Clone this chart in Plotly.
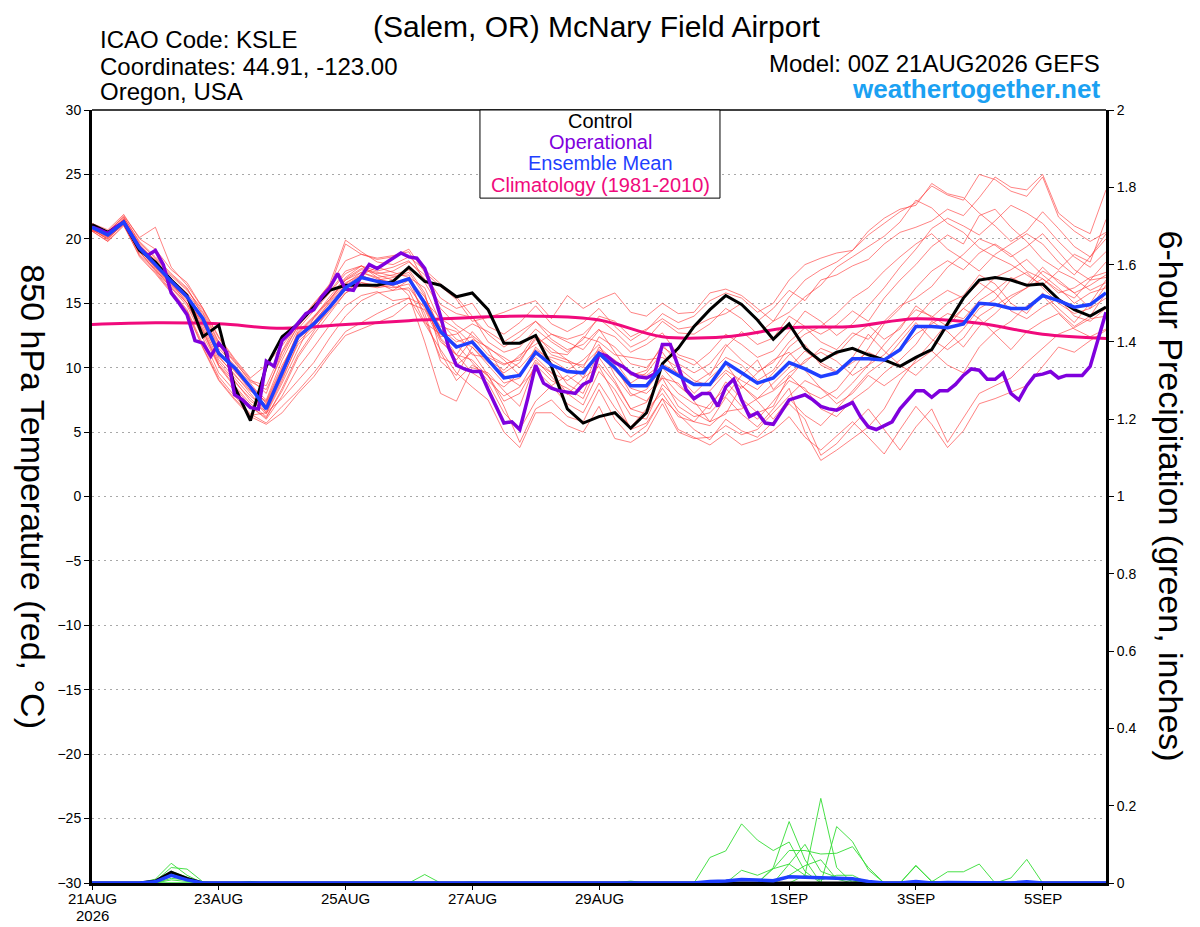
import pandas as pd
import plotly.graph_objects as go

times = pd.date_range("2026-08-21 00:00", periods=65, freq="6h")
times_3h = pd.date_range("2026-08-21 00:00", periods=129, freq="3h")
clim_days = pd.date_range("2026-08-21 00:00", periods=17, freq="D")

# control run (black)
control = [21.1, 20.5, 21.3, 19.1, 18.2, 16.8, 15.6, 12.4, 13.3, 8.5, 5.9, 10.1, 12.4,
           13.4, 14.7, 16.0, 16.4, 16.4, 16.4, 16.7, 17.8, 16.7, 16.4, 15.5, 15.8, 14.5,
           11.9, 11.9, 12.5, 10.1, 6.8, 5.7, 6.2, 6.5, 5.3, 6.5, 10.3, 11.5, 13.2,
           14.5, 15.6, 14.9, 13.7, 12.2, 13.4, 11.5, 10.5, 11.2, 11.5, 11.0, 10.6, 10.1,
           10.8, 11.4, 13.4, 15.4, 16.8, 17.0, 16.8, 16.4, 16.5, 15.3, 14.5, 14.0, 14.7]

# ensemble mean (blue)
ens_mean = [20.9, 20.3, 21.3, 19.3, 18.0, 16.7, 15.5, 13.8, 11.1, 10.0, 8.5, 6.8, 9.6,
            12.4, 13.4, 14.7, 16.2, 17.0, 16.7, 16.5, 16.9, 15.0, 12.8, 11.6, 12.0, 10.6,
            9.2, 9.4, 11.2, 10.2, 9.7, 9.6, 11.1, 10.0, 8.6, 8.6, 10.1, 9.4, 8.7,
            8.7, 10.4, 9.6, 8.8, 9.2, 10.4, 9.9, 9.3, 9.6, 10.7, 10.7, 10.6, 11.4,
            13.2, 13.2, 13.1, 13.4, 15.0, 14.9, 14.6, 14.6, 15.6, 15.2, 14.7, 14.9, 15.8]

# operational run (purple), 3-hourly
operational = [20.9, 20.7, 20.4, 20.9, 21.3, 20.3, 19.3, 18.7, 19.1, 18.0, 15.8, 15.0, 14.1,
               12.1, 11.9, 10.9, 11.9, 11.2, 7.9, 7.5, 6.9, 6.8, 10.5, 10.1, 12.1, 12.7,
               13.4, 14.2, 14.5, 15.5, 16.2, 17.3, 16.1, 16.0, 17.1, 18.0, 17.7, 18.1, 18.5,
               18.9, 18.6, 18.5, 17.7, 16.0, 14.0, 11.6, 10.2, 9.9, 9.7, 9.7, 8.3, 7.0,
               5.7, 5.8, 5.2, 7.6, 10.2, 8.8, 8.4, 8.2, 8.1, 8.0, 8.7, 9.0, 11.1,
               10.9, 10.4, 10.1, 9.6, 9.3, 9.2, 9.5, 11.8, 11.8, 10.1, 8.3, 7.6, 8.0,
               8.0, 7.0, 8.5, 9.1, 7.5, 6.2, 6.5, 5.7, 5.6, 6.6, 7.5, 7.7, 7.9, 7.5,
               7.0, 6.8, 6.7, 7.0, 7.3, 6.2, 5.4, 5.2, 5.5, 5.8, 6.8, 7.5, 8.2,
               8.2, 7.7, 8.2, 8.2, 8.7, 9.4, 9.9, 9.8, 9.1, 9.1, 9.6, 8.0, 7.5,
               8.6, 9.4, 9.5, 9.7, 9.2, 9.4, 9.4, 9.4, 10.1, 12.1, 14.3]

# climatology 1981-2010 (pink), daily
climatology = [13.36, 13.48, 13.4, 13.05, 13.35, 13.65, 13.9, 14.0, 13.7,
               12.4, 12.4, 13.1, 13.2, 13.8, 13.45, 12.6, 12.27]

# ensemble members, 850 hPa temperature (red)
members = [
    [20.7, 20.0, 21.4, 19.0, 17.6, 16.2, 14.8, 12.3, 9.6, 8.2, 7.0, 6.1, 8.4,
     11.0, 12.8, 14.6, 16.5, 17.4, 17.0, 17.2, 17.6, 15.8, 11.2, 9.0, 10.2, 9.4,
     7.0, 4.2, 6.8, 7.5, 6.2, 5.8, 8.3, 6.0, 4.6, 5.5, 7.6, 6.4, 5.2,
     4.4, 6.0, 5.1, 4.6, 5.8, 7.2, 6.0, 3.2, 4.1, 5.5, 6.8, 5.2, 3.6,
     5.4, 6.8, 4.2, 6.1, 8.0, 8.6, 9.2, 10.4, 11.5, 12.6, 13.1, 13.8, 14.0],
    [21.0, 20.4, 21.6, 19.6, 18.3, 16.9, 15.8, 14.2, 11.5, 10.2, 8.8, 7.2, 9.8,
     12.8, 14.0, 15.3, 16.8, 17.6, 17.3, 17.5, 18.2, 17.2, 15.4, 14.6, 15.0, 13.2,
     12.6, 13.5, 14.8, 13.4, 12.8, 13.5, 14.6, 13.2, 12.1, 12.9, 14.2, 13.5, 14.0,
     15.2, 15.8, 15.4, 14.3, 15.0, 16.8, 18.0, 18.5, 18.9, 19.1, 20.3, 21.2, 22.1,
     22.8, 24.1, 23.4, 23.0, 25.0, 24.6, 23.7, 23.3, 24.8, 21.7, 20.6, 19.8, 20.5],
    [20.9, 20.2, 21.2, 19.2, 17.8, 16.4, 15.2, 13.5, 10.8, 9.5, 8.0, 6.5, 9.0,
     12.0, 13.2, 14.5, 16.0, 16.6, 16.4, 16.2, 16.5, 14.2, 10.5, 9.4, 11.6, 10.2,
     8.8, 9.2, 11.6, 10.4, 8.7, 8.0, 10.8, 9.0, 6.8, 7.3, 9.4, 8.0, 7.2,
     6.8, 8.9, 7.6, 6.5, 7.0, 9.4, 8.2, 7.6, 8.3, 9.8, 11.5, 13.4, 14.6,
     16.2, 17.5, 18.3, 17.6, 18.9, 19.6, 18.8, 17.5, 16.9, 15.8, 16.2, 17.0, 17.4],
    [20.6, 20.5, 21.8, 20.1, 20.9, 17.8, 16.4, 14.6, 12.3, 10.6, 9.1, 8.0, 11.2,
     13.2, 14.6, 15.9, 17.5, 17.9, 17.0, 16.3, 16.0, 13.5, 12.6, 11.8, 10.4, 9.0,
     7.8, 8.5, 10.6, 9.3, 7.9, 9.2, 11.6, 10.5, 8.8, 9.6, 11.2, 9.4, 8.0,
     9.2, 10.3, 8.6, 7.4, 6.0, 7.6, 6.3, 5.5, 6.8, 8.2, 9.6, 10.5, 12.0,
     13.5, 12.2, 11.4, 12.3, 14.0, 14.8, 15.6, 16.2, 16.9, 16.0, 15.4, 16.8, 18.2],
    [21.1, 20.3, 21.5, 19.4, 18.1, 16.6, 15.0, 12.8, 10.2, 8.9, 7.6, 6.4, 8.8,
     11.4, 13.9, 15.5, 17.0, 17.9, 17.2, 16.8, 15.6, 12.0, 8.0, 7.4, 10.0, 9.6,
     8.2, 7.0, 10.4, 9.6, 8.0, 7.1, 9.7, 8.3, 6.3, 6.0, 8.7, 7.5, 6.5,
     5.8, 7.7, 6.4, 5.4, 6.8, 8.4, 5.0, 2.8, 3.6, 4.5, 5.4, 6.8, 9.0,
     10.6, 12.0, 13.5, 14.6, 13.8, 12.6, 11.4, 12.8, 13.6, 14.2, 13.0, 12.4, 13.0],
    [20.8, 19.9, 21.3, 19.3, 18.4, 17.1, 16.0, 14.5, 12.0, 10.5, 8.9, 8.3, 10.9,
     13.3, 14.8, 16.2, 19.6, 18.8, 18.4, 18.6, 19.2, 17.4, 16.3, 15.3, 13.6, 13.9,
     14.3, 14.8, 15.2, 13.8, 15.6, 14.6, 15.3, 15.8, 14.3, 14.0, 15.0, 14.2, 14.3,
     15.8, 16.1, 15.6, 14.6, 13.6, 14.3, 15.5, 16.4, 17.8, 18.6, 19.4, 20.2, 21.3,
     23.0, 22.4, 21.2, 20.5, 19.3, 18.6, 18.0, 17.2, 16.4, 17.5, 16.9, 16.0, 16.6],
    [20.9, 20.1, 21.1, 19.0, 17.5, 16.0, 14.5, 11.8, 9.3, 7.8, 6.4, 5.7, 7.0,
     8.2, 9.6, 11.2, 12.8, 13.5, 14.2, 14.8, 15.4, 14.8, 12.3, 11.0, 9.6, 8.8,
     6.5, 5.2, 7.4, 8.6, 9.4, 8.5, 11.3, 10.2, 8.0, 7.4, 9.2, 7.0, 6.2,
     6.5, 7.8, 9.4, 10.6, 8.3, 9.6, 10.4, 11.5, 11.0, 12.4, 13.3, 12.2, 13.0,
     14.8, 13.9, 15.0, 15.6, 17.2, 16.5, 15.0, 14.2, 15.8, 14.6, 13.5, 15.0, 16.8],
    [20.6, 19.8, 21.0, 18.7, 17.4, 15.9, 14.4, 11.6, 9.1, 7.6, 6.3, 6.5, 7.6,
     9.0, 10.4, 12.3, 14.0, 15.2, 15.8, 16.0, 16.8, 15.5, 13.0, 12.0, 12.4, 11.0,
     10.3, 10.6, 12.2, 11.0, 10.6, 10.0, 12.4, 11.6, 10.3, 10.0, 11.6, 10.8, 10.2,
     11.2, 12.6, 11.8, 10.8, 11.3, 12.8, 14.4, 13.6, 12.5, 13.4, 14.8, 16.2, 17.8,
     19.2, 20.8, 21.6, 21.0, 20.3, 21.4, 22.6, 22.0, 21.2, 19.8, 18.6, 17.8, 19.0],
    [21.0, 20.6, 21.7, 19.8, 18.6, 17.3, 16.2, 14.0, 11.2, 9.7, 8.4, 7.0, 9.3,
     12.5, 13.6, 15.0, 16.4, 17.2, 17.8, 17.4, 17.0, 16.2, 13.5, 12.2, 11.6, 10.4,
     9.6, 10.4, 12.4, 11.5, 10.6, 9.2, 10.1, 7.8, 5.2, 5.7, 7.6, 5.2, 4.6,
     4.0, 4.9, 4.0, 4.4, 5.1, 6.2, 4.6, 3.6, 4.7, 5.8, 4.6, 3.3, 5.2,
     7.0, 5.6, 3.8, 5.1, 7.2, 7.6, 8.1, 8.6, 10.1, 11.6, 11.2, 12.1, 12.9],
    [20.8, 20.2, 21.4, 19.1, 17.8, 16.5, 15.4, 13.2, 10.6, 9.2, 7.8, 6.8, 9.9,
     12.6, 13.8, 15.2, 16.8, 17.4, 16.9, 16.6, 16.9, 15.2, 13.8, 13.0, 11.8, 10.6,
     9.8, 11.0, 11.8, 12.6, 12.0, 11.4, 12.9, 12.4, 11.2, 11.8, 12.7, 11.0, 10.6,
     9.4, 11.6, 12.8, 11.8, 12.3, 14.0, 13.2, 12.6, 13.3, 14.4, 13.6, 15.4, 16.8,
     18.0, 19.4, 20.3, 19.6, 21.8, 22.3, 20.9, 19.8, 18.4, 17.6, 18.8, 18.2, 21.5],
    [21.2, 20.7, 21.9, 20.0, 19.2, 17.6, 16.6, 14.6, 12.4, 10.7, 9.2, 10.2, 11.7,
     13.4, 15.0, 16.4, 18.3, 18.8, 18.5, 18.7, 19.0, 16.6, 14.6, 13.3, 12.5, 11.5,
     10.8, 10.0, 11.4, 10.6, 9.8, 10.6, 11.8, 9.4, 7.8, 8.3, 10.0, 8.6, 7.6,
     8.2, 9.6, 8.4, 9.6, 10.6, 11.2, 9.8, 8.4, 7.6, 8.8, 10.2, 11.0, 12.4,
     13.8, 15.2, 16.0, 15.4, 16.6, 15.8, 14.4, 13.8, 14.7, 15.4, 14.0, 13.6, 14.6],
    [20.7, 20.0, 21.2, 18.8, 17.6, 16.2, 15.0, 12.9, 10.2, 8.6, 7.2, 6.2, 8.2,
     10.8, 12.6, 14.2, 15.8, 16.6, 16.3, 16.5, 17.0, 13.8, 10.8, 10.2, 11.2, 9.4,
     7.4, 8.0, 10.2, 9.0, 8.4, 7.6, 10.3, 8.8, 6.8, 6.4, 8.4, 6.6, 5.8,
     5.5, 6.6, 6.8, 7.6, 8.8, 10.0, 11.3, 10.4, 9.7, 10.8, 12.6, 11.3, 10.2,
     9.4, 10.6, 11.8, 13.0, 14.6, 15.3, 16.8, 17.4, 16.2, 15.0, 14.2, 14.6, 15.4],
    [21.0, 20.3, 21.5, 19.5, 18.2, 16.8, 15.6, 13.9, 11.8, 10.0, 8.6, 7.5, 10.6,
     13.0, 14.4, 15.8, 17.3, 17.9, 17.5, 17.8, 18.3, 16.9, 14.9, 14.2, 13.9, 12.6,
     11.6, 12.4, 13.6, 12.6, 12.2, 12.6, 13.8, 12.8, 11.6, 12.2, 13.6, 12.7, 12.6,
     13.4, 14.6, 13.8, 12.6, 13.6, 15.4, 16.8, 17.6, 18.2, 19.1, 20.6, 21.6, 22.3,
     22.6, 24.3, 23.5, 23.2, 22.0, 21.0, 19.8, 20.6, 22.1, 20.8, 19.4, 18.6, 20.4],
    [20.6, 19.8, 21.1, 18.6, 17.3, 15.8, 14.3, 11.5, 9.0, 7.5, 6.2, 5.6, 6.5,
     8.0, 9.3, 11.0, 12.5, 13.0, 13.5, 14.0, 15.0, 14.5, 12.0, 11.0, 12.8, 11.4,
     9.4, 8.6, 9.8, 8.6, 7.2, 6.5, 8.8, 6.9, 5.4, 6.8, 8.0, 6.2, 5.8,
     7.2, 8.4, 7.0, 6.0, 7.4, 9.0, 8.4, 6.8, 6.2, 7.5, 8.4, 9.6, 10.6,
     11.8, 13.6, 12.8, 11.6, 13.2, 14.2, 15.4, 16.2, 17.5, 16.8, 15.8, 16.4, 17.2],
    [20.9, 20.4, 21.3, 19.3, 18.0, 16.5, 15.3, 13.4, 10.9, 9.4, 8.2, 7.4, 10.2,
     12.3, 13.5, 15.1, 16.6, 17.2, 16.6, 16.0, 16.2, 14.6, 12.4, 12.6, 13.4, 12.8,
     12.0, 12.8, 13.6, 12.2, 11.4, 11.8, 13.0, 11.2, 9.4, 9.8, 11.8, 10.3, 9.6,
     10.3, 11.8, 10.6, 9.7, 10.4, 12.0, 13.1, 12.0, 11.4, 12.7, 12.2, 13.6, 14.8,
     15.4, 16.3, 17.8, 18.8, 20.0, 19.5, 18.6, 19.4, 20.4, 19.0, 17.6, 16.8, 17.0],
    [21.1, 20.5, 21.7, 19.7, 18.5, 17.2, 16.1, 14.3, 11.9, 10.4, 9.0, 8.6, 11.3,
     13.5, 14.9, 16.5, 19.9, 19.0, 18.2, 18.0, 18.6, 17.6, 16.5, 15.5, 14.0, 12.0,
     11.2, 11.6, 13.0, 12.0, 11.2, 12.2, 14.0, 13.6, 12.4, 13.0, 13.8, 13.0, 13.2,
     13.8, 14.2, 15.0, 13.6, 14.6, 16.0, 15.2, 16.8, 17.2, 17.9, 18.4, 19.6, 20.5,
     20.9, 21.4, 22.3, 21.8, 23.2, 24.8, 24.0, 23.8, 25.0, 22.0, 21.0, 20.4, 23.8],
    [20.7, 20.1, 21.4, 19.2, 17.7, 16.3, 15.0, 12.6, 10.1, 8.5, 7.0, 6.0, 7.8,
     10.0, 11.6, 13.3, 14.8, 15.6, 15.9, 15.2, 15.4, 13.4, 11.4, 9.6, 8.5, 7.5,
     5.0, 3.8, 6.5, 6.5, 5.5, 5.0, 7.0, 4.5, 4.2, 5.0, 7.2, 5.0, 4.5,
     4.6, 5.5, 4.8, 5.2, 6.5, 7.8, 9.0, 8.4, 7.2, 8.0, 9.4, 8.6, 9.5,
     10.4, 11.3, 10.2, 9.6, 11.6, 12.8, 13.6, 14.8, 15.6, 14.3, 13.2, 14.0, 15.8],
    [20.8, 20.2, 21.3, 19.4, 18.2, 16.7, 15.5, 13.6, 11.0, 9.8, 8.2, 7.1, 9.5,
     12.2, 13.3, 14.8, 16.3, 17.1, 16.8, 17.0, 17.4, 15.6, 12.8, 11.0, 10.6, 9.3,
     8.5, 9.6, 10.8, 9.6, 9.0, 9.8, 11.0, 9.8, 8.4, 8.0, 9.2, 8.8, 7.4,
     5.8, 6.4, 8.6, 7.6, 8.2, 9.2, 10.6, 11.2, 10.5, 9.4, 10.2, 11.8, 13.2,
     14.5, 14.0, 13.2, 14.6, 15.8, 17.0, 17.6, 18.4, 17.2, 16.2, 15.0, 15.8, 16.2],
    [21.0, 20.4, 21.5, 19.5, 18.0, 16.6, 15.4, 13.0, 10.4, 9.0, 7.4, 6.6, 9.2,
     11.8, 13.0, 14.4, 15.8, 16.4, 16.2, 16.4, 16.8, 15.0, 13.2, 12.8, 11.0, 10.8,
     10.2, 10.8, 12.6, 11.2, 11.0, 12.4, 12.0, 11.0, 10.8, 10.6, 10.8, 10.0, 9.0,
     8.6, 9.8, 9.0, 8.3, 9.6, 11.0, 11.8, 10.2, 9.6, 10.4, 11.2, 10.6, 11.4,
     12.6, 13.4, 14.2, 13.8, 15.2, 16.0, 17.0, 16.4, 17.8, 16.6, 15.8, 14.6, 16.4],
    [20.9, 20.3, 21.3, 19.3, 18.1, 16.8, 15.6, 13.9, 11.3, 9.9, 8.5, 7.3, 10.0,
     12.7, 13.9, 15.3, 16.9, 17.7, 17.4, 17.1, 17.2, 14.8, 12.2, 10.6, 12.2, 11.6,
     10.6, 9.4, 11.0, 10.8, 10.4, 10.2, 11.4, 10.6, 9.6, 9.4, 10.3, 9.6, 8.8,
     9.6, 10.8, 10.2, 9.0, 9.8, 11.6, 12.6, 13.2, 14.2, 15.4, 16.2, 17.5, 18.6,
     19.6, 20.4, 19.2, 18.4, 17.5, 18.8, 19.6, 20.4, 19.6, 18.2, 17.2, 18.6, 20.0],
]

# 6-hour precipitation (inches), members with any rain (green)
precip_members = [
    [0, 0, 0, 0, 0.01, 0.051, 0.02, 0, 0, 0, 0, 0, 0,
     0, 0, 0, 0, 0, 0, 0, 0, 0, 0, 0, 0, 0,
     0, 0, 0, 0, 0, 0, 0, 0, 0, 0, 0, 0, 0,
     0.066, 0.083, 0.153, 0.111, 0.084, 0.106, 0.03, 0, 0, 0, 0, 0, 0,
     0, 0, 0, 0, 0, 0, 0, 0, 0, 0, 0, 0, 0],
    [0, 0, 0, 0, 0.005, 0.04, 0.036, 0.003, 0, 0, 0, 0, 0,
     0, 0, 0, 0, 0, 0, 0, 0, 0, 0, 0, 0, 0,
     0, 0, 0, 0, 0, 0, 0, 0, 0, 0, 0, 0, 0,
     0, 0, 0, 0, 0.04, 0.159, 0.06, 0, 0, 0, 0, 0, 0,
     0.046, 0.003, 0.029, 0.029, 0.049, 0, 0.013, 0.061, 0, 0, 0, 0, 0],
    [0, 0, 0, 0, 0, 0.03, 0.015, 0, 0, 0, 0, 0, 0,
     0, 0, 0, 0, 0, 0, 0, 0, 0, 0, 0, 0, 0,
     0, 0, 0, 0, 0, 0, 0, 0, 0, 0, 0, 0, 0,
     0, 0, 0, 0, 0, 0, 0.02, 0.219, 0.04, 0, 0, 0, 0,
     0, 0, 0, 0, 0, 0, 0, 0, 0, 0, 0, 0, 0],
    [0, 0, 0, 0, 0, 0.012, 0.008, 0, 0, 0, 0.004, 0, 0,
     0, 0, 0, 0, 0, 0, 0, 0, 0.022, 0, 0, 0, 0,
     0, 0, 0, 0, 0, 0, 0, 0, 0, 0, 0, 0, 0,
     0, 0, 0, 0, 0, 0, 0, 0, 0.146, 0.107, 0.034, 0, 0,
     0, 0, 0, 0, 0, 0, 0, 0, 0, 0, 0, 0, 0],
    [0, 0, 0, 0, 0, 0.02, 0.01, 0, 0, 0, 0, 0, 0,
     0, 0, 0, 0, 0, 0, 0, 0, 0, 0, 0, 0, 0,
     0, 0, 0, 0, 0, 0, 0, 0, 0, 0, 0, 0, 0,
     0, 0, 0, 0, 0, 0.049, 0.1, 0.03, 0.015, 0.005, 0, 0, 0,
     0.044, 0.005, 0, 0, 0, 0, 0, 0, 0, 0, 0, 0, 0],
    [0, 0, 0, 0, 0, 0.008, 0.004, 0, 0, 0, 0, 0, 0,
     0, 0, 0, 0, 0, 0, 0, 0, 0, 0, 0, 0.003, 0,
     0, 0, 0, 0, 0, 0, 0, 0, 0, 0, 0, 0, 0,
     0, 0, 0, 0, 0.037, 0.084, 0.084, 0.075, 0.077, 0.094, 0.04, 0, 0,
     0, 0, 0, 0, 0, 0, 0, 0, 0, 0, 0, 0, 0],
    [0, 0, 0, 0, 0, 0, 0, 0, 0, 0, 0, 0, 0,
     0, 0, 0, 0, 0, 0, 0, 0, 0, 0, 0, 0, 0,
     0, 0, 0, 0, 0, 0, 0, 0, 0.005, 0, 0, 0, 0,
     0, 0, 0.033, 0.02, 0.037, 0.049, 0.02, 0.008, 0.02, 0.02, 0, 0, 0,
     0.005, 0, 0, 0, 0, 0, 0, 0, 0, 0, 0, 0, 0],
    [0, 0, 0, 0, 0, 0, 0, 0, 0, 0, 0, 0, 0,
     0, 0, 0, 0, 0, 0, 0, 0, 0, 0, 0, 0, 0,
     0, 0, 0, 0, 0, 0, 0, 0, 0, 0, 0, 0, 0,
     0, 0, 0, 0, 0, 0.02, 0.045, 0.06, 0.01, 0, 0, 0, 0,
     0, 0, 0, 0, 0, 0, 0, 0, 0, 0, 0, 0, 0],
]

precip_control = [0, 0, 0, 0, 0.005, 0.028, 0.012, 0, 0, 0, 0, 0, 0,
                  0, 0, 0, 0, 0, 0, 0, 0, 0, 0, 0, 0, 0,
                  0, 0, 0, 0, 0, 0, 0, 0, 0, 0, 0, 0, 0,
                  0, 0, 0, 0, 0, 0, 0, 0, 0, 0, 0, 0, 0,
                  0, 0, 0, 0, 0, 0, 0, 0, 0, 0, 0, 0, 0]

precip_mean = [0, 0, 0, 0, 0.003, 0.02, 0.008, 0, 0, 0, 0, 0, 0,
               0, 0, 0, 0, 0, 0, 0, 0, 0.001, 0, 0, 0, 0,
               0, 0, 0, 0, 0, 0, 0, 0, 0, 0, 0, 0, 0,
               0.004, 0.005, 0.009, 0.007, 0.006, 0.016, 0.014, 0.012, 0.012, 0.011, 0.004, 0, 0,
               0.004, 0, 0.001, 0.001, 0.002, 0, 0, 0.003, 0, 0, 0, 0, 0]

tick_dates = ["2026-08-21", "2026-08-23", "2026-08-25", "2026-08-27", "2026-08-29",
              "2026-09-01", "2026-09-03", "2026-09-05"]
tick_labels = ["21AUG", "23AUG", "25AUG", "27AUG", "29AUG", "1SEP", "3SEP", "5SEP"]
start_year = "2026"

font = "Liberation Sans, Arial, sans-serif"

fig = go.Figure()

for m in members:
    fig.add_trace(go.Scatter(x=times, y=m, mode="lines", line=dict(color="rgba(255,60,60,0.8)", width=0.8),
                             showlegend=False, hoverinfo="skip"))

for p in precip_members:
    fig.add_trace(go.Scatter(x=times, y=p, mode="lines", yaxis="y2", line=dict(color="#33dd33", width=0.9),
                             showlegend=False, hoverinfo="skip"))

fig.add_trace(go.Scatter(x=times, y=precip_control, mode="lines", yaxis="y2", line=dict(color="black", width=3),
                         showlegend=False))
fig.add_trace(go.Scatter(x=times, y=precip_mean, mode="lines", yaxis="y2", line=dict(color="#1f3fff", width=3.5),
                         showlegend=False))

fig.add_trace(go.Scatter(x=clim_days, y=climatology, mode="lines", line=dict(color="#f00a7c", width=3, shape="spline"),
                         name="Climatology (1981-2010)", showlegend=False))
fig.add_trace(go.Scatter(x=times, y=control, mode="lines", line=dict(color="black", width=3),
                         name="Control", showlegend=False))
fig.add_trace(go.Scatter(x=times_3h, y=operational, mode="lines", line=dict(color="#7f00dd", width=3.5),
                         name="Operational", showlegend=False))
fig.add_trace(go.Scatter(x=times, y=ens_mean, mode="lines", line=dict(color="#1f3fff", width=3.5),
                         name="Ensemble Mean", showlegend=False))

# the page body adds an 8px offset, so margins are trimmed to put the frame at 92..1106 / 110..883
fig.update_layout(
    width=1200, height=927,
    margin=dict(l=84, r=102, t=102, b=52, autoexpand=False),
    paper_bgcolor="white", plot_bgcolor="white",
    font=dict(family=font, color="black"),
    xaxis=dict(type="date", range=["2026-08-21 00:00", "2026-09-06 00:00"], automargin=False,
               tickvals=tick_dates, showticklabels=False, showgrid=False, zeroline=False,
               showline=True, linecolor="black", linewidth=3, ticks="outside", ticklen=4,
               tickcolor="black"),
    yaxis=dict(range=[-30, 30], dtick=5, tick0=-30, showgrid=True, gridcolor="#a8a8a8",
               griddash="2px,4px", gridwidth=1, zeroline=False, showline=True, linecolor="black",
               linewidth=3, ticks="outside", ticklen=5, tickcolor="black", tickfont=dict(size=14),
               automargin=False),
    yaxis2=dict(range=[0, 2], dtick=0.2, overlaying="y", side="right", showgrid=False,
                zeroline=False, showline=True, linecolor="black", linewidth=3, ticks="outside",
                ticklen=5, tickcolor="black", tickfont=dict(size=14), automargin=False),
)

# date labels under the axis, with the year under the first one
for d, lab in zip(tick_dates, tick_labels):
    fig.add_annotation(text=lab, xref="x", yref="paper", x=d, y=-0.0195, showarrow=False,
                       xanchor="center", yanchor="middle", font=dict(size=15), borderpad=0)
fig.add_annotation(text=start_year, xref="x", yref="paper", x=tick_dates[0], y=-0.0418, showarrow=False,
                   xanchor="center", yanchor="middle", font=dict(size=15), borderpad=0)

# top frame line and legend box
fig.add_shape(type="line", xref="paper", yref="paper", x0=0, x1=1, y0=1, y1=1,
              line=dict(color="black", width=1.5), layer="above")
fig.add_shape(type="rect", xref="paper", yref="paper", x0=0.3826, x1=0.6193, y0=0.886, y1=1.0,
              fillcolor="white", line=dict(color="black", width=1), layer="above")

legend_items = [("Control", "black", 0.9858), ("Operational", "#7f00dd", 0.9586),
                ("Ensemble Mean", "#1f3fff", 0.9314), ("Climatology (1981-2010)", "#f00a7c", 0.9030)]
for text, color, ypos in legend_items:
    fig.add_annotation(text=text, xref="paper", yref="paper", x=0.501, y=ypos, showarrow=False,
                       xanchor="center", yanchor="middle", font=dict(size=20, color=color))

fig.add_annotation(text="(Salem, OR) McNary Field Airport", xref="paper", yref="paper", x=0.498, y=1.1074,
                   showarrow=False, xanchor="center", yanchor="middle", font=dict(size=30), borderpad=0)
fig.add_annotation(text="ICAO Code: KSLE", xref="paper", yref="paper", x=0.0059, y=1.0906,
                   showarrow=False, xanchor="left", yanchor="middle", font=dict(size=24))
fig.add_annotation(text="Coordinates: 44.91, -123.00", xref="paper", yref="paper", x=0.0059, y=1.0569,
                   showarrow=False, xanchor="left", yanchor="middle", font=dict(size=24))
fig.add_annotation(text="Oregon, USA", xref="paper", yref="paper", x=0.0059, y=1.0233,
                   showarrow=False, xanchor="left", yanchor="middle", font=dict(size=24))
fig.add_annotation(text="Model: 00Z 21AUG2026 GEFS", xref="paper", yref="paper", x=0.996, y=1.0608,
                   showarrow=False, xanchor="right", yanchor="middle", font=dict(size=24))
fig.add_annotation(text="<b>weathertogether.net</b>", xref="paper", yref="paper", x=0.996, y=1.0272,
                   showarrow=False, xanchor="right", yanchor="middle", font=dict(size=26, color="#1ba1f2"))

fig.add_annotation(text="850 hPa Temperature (red, °C)", xref="paper", yref="paper", x=-0.058, y=0.5,
                   showarrow=False, xanchor="center", yanchor="middle", textangle=90, font=dict(size=34))
fig.add_annotation(text="6-hour Precipitation (green, inches)", xref="paper", yref="paper", x=1.065, y=0.5,
                   showarrow=False, xanchor="center", yanchor="middle", textangle=90, font=dict(size=34))

fig.write_html("out.html")
